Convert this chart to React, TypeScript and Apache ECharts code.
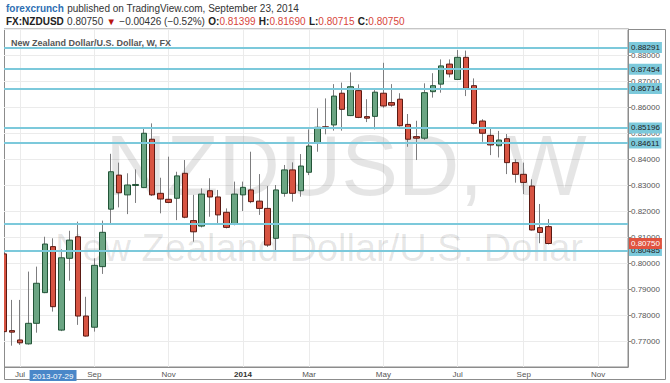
import React, { useEffect, useRef } from 'react';
import * as echarts from 'echarts';

// Weekly NZD/USD candles (week starting dates)
const weeks = [
  '2013-06-17', '2013-06-24', '2013-07-01', '2013-07-08', '2013-07-15', '2013-07-22', '2013-07-29',
  '2013-08-05', '2013-08-12', '2013-08-19', '2013-08-26', '2013-09-02', '2013-09-09', '2013-09-16',
  '2013-09-23', '2013-09-30', '2013-10-07', '2013-10-14', '2013-10-21', '2013-10-28', '2013-11-04',
  '2013-11-11', '2013-11-18', '2013-11-25', '2013-12-02', '2013-12-09', '2013-12-16', '2013-12-23',
  '2013-12-30', '2014-01-06', '2014-01-13', '2014-01-20', '2014-01-27', '2014-02-03', '2014-02-10',
  '2014-02-17', '2014-02-24', '2014-03-03', '2014-03-10', '2014-03-17', '2014-03-24', '2014-03-31',
  '2014-04-07', '2014-04-14', '2014-04-21', '2014-04-28', '2014-05-05', '2014-05-12', '2014-05-19',
  '2014-05-26', '2014-06-02', '2014-06-09', '2014-06-16', '2014-06-23', '2014-06-30', '2014-07-07',
  '2014-07-14', '2014-07-21', '2014-07-28', '2014-08-04', '2014-08-11', '2014-08-18', '2014-08-25',
  '2014-09-01', '2014-09-08', '2014-09-15', '2014-09-22',
];

const opens = [
  0.8035, 0.7740, 0.7704, 0.7689, 0.7768, 0.7886, 0.8063, 0.7742, 0.8018, 0.8101, 0.7796, 0.7753, 0.7986, 0.8207,
  0.8338, 0.8262, 0.8298, 0.8290, 0.8476, 0.8268, 0.8245, 0.8249, 0.8345, 0.8163, 0.8142, 0.8278, 0.8254, 0.8195,
  0.8149, 0.8262, 0.8281, 0.8238, 0.8210, 0.8095, 0.8268, 0.8358, 0.8278, 0.8349, 0.8463, 0.8524, 0.8531, 0.8653,
  0.8567, 0.8663, 0.8563, 0.8564, 0.8653, 0.8617, 0.8630, 0.8533, 0.8486, 0.8480, 0.8659, 0.8688, 0.8765, 0.8706,
  0.8791, 0.8682, 0.8546, 0.8491, 0.8451, 0.8478, 0.8386, 0.8341, 0.8296, 0.8136, 0.81399,
];
const closes = [
  0.7736, 0.7734, 0.7693, 0.7768, 0.7922, 0.8073, 0.7832, 0.8020, 0.8088, 0.7796, 0.7719, 0.7991, 0.8118, 0.8351,
  0.8270, 0.8300, 0.8302, 0.8499, 0.8262, 0.8246, 0.8233, 0.8335, 0.8176, 0.8120, 0.8265, 0.8254, 0.8185, 0.8137,
  0.8265, 0.8291, 0.8236, 0.8210, 0.8069, 0.8281, 0.8358, 0.8268, 0.8373, 0.8450, 0.8522, 0.8521, 0.8642, 0.8591,
  0.8678, 0.8560, 0.8557, 0.8657, 0.8604, 0.8607, 0.8528, 0.8476, 0.8480, 0.8655, 0.8682, 0.8758, 0.8727, 0.8791,
  0.8672, 0.8537, 0.8499, 0.8454, 0.8473, 0.8386, 0.8341, 0.8310, 0.8127, 0.81176, 0.80750,
];
const lows = [
  0.7720, 0.7682, 0.7685, 0.7686, 0.7732, 0.7884, 0.7813, 0.7738, 0.7932, 0.7762, 0.7717, 0.7736, 0.7958, 0.8153,
  0.8214, 0.8188, 0.8231, 0.8288, 0.8258, 0.8191, 0.8230, 0.8165, 0.8172, 0.8082, 0.8137, 0.8178, 0.8150, 0.8133,
  0.8145, 0.8200, 0.8230, 0.8185, 0.8062, 0.8050, 0.8255, 0.8236, 0.8255, 0.8338, 0.8428, 0.8495, 0.8509, 0.8509,
  0.8565, 0.8557, 0.8542, 0.8514, 0.8597, 0.8601, 0.8525, 0.8447, 0.8396, 0.8473, 0.8636, 0.8655, 0.8714, 0.8704,
  0.8642, 0.8533, 0.8466, 0.8415, 0.8406, 0.8342, 0.8309, 0.8265, 0.8125, 0.8076, 0.80715,
];
const highs = [
  0.8050, 0.7858, 0.7858, 0.7967, 0.7986, 0.8101, 0.8095, 0.8053, 0.8124, 0.8159, 0.7870, 0.8018, 0.8163, 0.8420,
  0.8386, 0.8345, 0.8360, 0.8518, 0.8537, 0.8328, 0.8409, 0.8351, 0.8396, 0.8262, 0.8287, 0.8326, 0.8281, 0.8210,
  0.8313, 0.8313, 0.8428, 0.8342, 0.8296, 0.8300, 0.8377, 0.8387, 0.8419, 0.8514, 0.8595, 0.8633, 0.8688, 0.8694,
  0.8733, 0.8687, 0.8630, 0.8665, 0.8770, 0.8688, 0.8653, 0.8573, 0.8547, 0.8691, 0.8730, 0.8783, 0.8783, 0.8819,
  0.8817, 0.8710, 0.8553, 0.8522, 0.8508, 0.8496, 0.8399, 0.8386, 0.8322, 0.8227, 0.81690,
];

// x-axis month labels (1-based week positions)
const monthTickIndex = [3, 12, 21, 30, 38, 47, 56, 64, 73];
const monthTickLabel = ['Jul', 'Sep', 'Nov', '2014', 'Mar', 'May', 'Jul', 'Sep', 'Nov'];
const crosshairIndex = 7; // 2013-07-29

// horizontal support / resistance levels
const levelLines = [0.88291, 0.87454, 0.86714, 0.85196, 0.84611, 0.80485];
const unlabeledLevel = 0.81527;
const lastPrice = 0.8075;

const FONT = '"Liberation Sans", Arial, sans-serif';
const UP_FILL = '#6ba583';
const UP_BORDER = '#225437';
const DOWN_FILL = '#d75442';
const DOWN_BORDER = '#5b1a13';
const WICK = '#7d7d7f';
const LEVEL = '#7cc9db';

export default function App() {
  const ref = useRef<HTMLDivElement>(null);

  useEffect(() => {
    const chart = echarts.init(ref.current as HTMLDivElement, null, { renderer: 'svg' });

    const wickData = weeks.map((_, i) => [i + 1, opens[i], closes[i], lows[i], highs[i]]);
    const bodyData = weeks.map((_, i) => [
      i + 1,
      opens[i],
      closes[i],
      Math.min(opens[i], closes[i]),
      Math.max(opens[i], closes[i]),
    ]);

    const option: any = {
      animation: false,
      backgroundColor: '#ffffff',
      textStyle: { fontFamily: FONT },
      grid: {
        left: 4,
        right: 42,
        top: 29,
        bottom: 16,
        show: true,
        borderColor: '#8c8c8c',
        borderWidth: 1,
        backgroundColor: 'transparent',
      },
      xAxis: {
        type: 'value',
        min: 1.06,
        max: 76.63,
        axisLine: { show: true, lineStyle: { color: '#8c8c8c' } },
        axisTick: { show: false, customValues: monthTickIndex },
        splitLine: { show: true, lineStyle: { color: '#ebebeb' } },
        axisLabel: {
          customValues: [...monthTickIndex, crosshairIndex],
          fontSize: 8,
          fontFamily: FONT,
          color: '#555',
          margin: 3,
          formatter: (v: number) => {
            if (v === crosshairIndex) return '{hl|' + weeks[crosshairIndex - 1] + '}';
            const k = monthTickIndex.indexOf(v);
            if (k < 0) return '';
            const t = monthTickLabel[k];
            return /^\d{4}$/.test(t) ? '{b|' + t + '}' : t;
          },
          rich: {
            hl: {
              backgroundColor: '#4a87c8',
              color: '#ffffff',
              fontSize: 8,
              fontFamily: FONT,
              padding: [2, 3, 1, 3],
            },
            b: { fontWeight: 'bold', color: '#333', fontSize: 8, fontFamily: FONT },
          },
        },
      },
      yAxis: {
        type: 'value',
        position: 'right',
        min: 0.76,
        max: 0.89,
        interval: 0.01,
        axisLine: { show: true, lineStyle: { color: '#8c8c8c' } },
        axisTick: { show: true, inside: false, length: 3, lineStyle: { color: '#8c8c8c' } },
        splitLine: { show: true, lineStyle: { color: '#ebebeb' } },
        axisLabel: {
          formatter: (v: number) => v.toFixed(5),
          fontSize: 8,
          fontFamily: FONT,
          color: '#555',
          margin: 3,
          showMinLabel: false,
          showMaxLabel: false,
        },
      },
      graphic: [
        {
          type: 'rect',
          z: 0,
          silent: true,
          shape: { x: 4.5, y: 29.5, width: 661, height: 350 },
          style: { fill: 'none', stroke: '#8c8c8c', lineWidth: 1 },
        },
        {
          type: 'rect',
          z: 100,
          silent: true,
          shape: { x: 0, y: 20, width: 4, height: 360 },
          style: { fill: '#ffffff', stroke: 'none' },
        },
        {
          type: 'text',
          x: 6,
          y: 8,
          style: {
            text: '{a|forexcrunch} {p|published on TradingView.com, September 23, 2014}',
            verticalAlign: 'middle',
            rich: {
              a: { fill: '#2f6fb3', fontSize: 10, fontFamily: FONT, fontWeight: 'bold' },
              p: { fill: '#333', fontSize: 10, fontFamily: FONT },
            },
          },
        },
        {
          type: 'text',
          x: 6,
          y: 21,
          style: {
            text:
              '{b|FX:NZDUSD} {n|0.80750} {t|▼} {n|−0.00426 (−0.52%)} {b|O:}{r|0.81399} {b|H:}{r|0.81690} {b|L:}{r|0.80715} {b|C:}{r|0.80750}',
            verticalAlign: 'middle',
            rich: {
              b: { fill: '#222', fontSize: 10, fontFamily: FONT, fontWeight: 'bold' },
              n: { fill: '#333', fontSize: 10, fontFamily: FONT },
              t: { fill: '#b8160f', fontSize: 9.5, fontFamily: FONT },
              r: { fill: '#d8453b', fontSize: 10, fontFamily: FONT },
            },
          },
        },
        {
          type: 'text',
          x: 346,
          y: 165,
          z: 1,
          silent: true,
          style: {
            text: 'NZDUSD, W',
            fill: 'rgba(0,0,0,0.1)',
            font: '85px "Liberation Sans", Arial, sans-serif',
            align: 'center',
            verticalAlign: 'middle',
          },
        },
        {
          type: 'text',
          x: 319,
          y: 248,
          z: 1,
          silent: true,
          style: {
            text: 'New Zealand Dollar/U.S. Dollar',
            fill: 'rgba(0,0,0,0.1)',
            font: '38px "Liberation Sans", Arial, sans-serif',
            align: 'center',
            verticalAlign: 'middle',
          },
        },
        {
          type: 'text',
          x: 11,
          y: 43,
          z: 10,
          style: {
            text: 'New Zealand Dollar/U.S. Dollar, W, FX',
            fill: '#555',
            font: 'bold 9px "Liberation Sans", Arial, sans-serif',
            verticalAlign: 'middle',
          },
        },
      ],
      series: [
        {
          name: 'wick',
          type: 'candlestick',
          data: wickData,
          encode: { x: 0, y: [1, 2, 3, 4] },
          barWidth: 1,
          clip: true,
          itemStyle: {
            color: WICK,
            color0: WICK,
            borderColor: WICK,
            borderColor0: WICK,
            borderWidth: 1,
          },
          markLine: {
            symbol: 'none',
            silent: true,
            precision: 5,
            animation: false,
            lineStyle: { color: LEVEL, width: 2, type: 'solid' },
            label: {
              show: true,
              position: 'end',
              distance: 1,
              fontSize: 8,
              fontFamily: FONT,
              color: '#1d1d1d',
              backgroundColor: LEVEL,
              padding: [2, 2, 1, 2],
              formatter: (p: any) => Number(p.value).toFixed(5),
            },
            data: [
              ...levelLines.map((v) => ({ yAxis: v })),
              { yAxis: unlabeledLevel, label: { show: false } },
              {
                yAxis: lastPrice,
                lineStyle: { color: 'rgba(0,0,0,0)', width: 0 },
                label: { show: true, backgroundColor: '#e0533f', color: '#ffffff' },
              },
            ],
          },
        },
        {
          name: 'body',
          type: 'candlestick',
          data: bodyData,
          encode: { x: 0, y: [1, 2, 3, 4] },
          barWidth: 6,
          clip: true,
          itemStyle: {
            color: UP_FILL,
            color0: DOWN_FILL,
            borderColor: UP_BORDER,
            borderColor0: DOWN_BORDER,
            borderWidth: 1,
          },
        },
      ],
    };

    chart.setOption(option);
    return () => chart.dispose();
  }, []);

  return (
    <div
      ref={ref}
      style={{ position: 'absolute', left: 0, top: 0, width: 670, height: 383 }}
    />
  );
}
